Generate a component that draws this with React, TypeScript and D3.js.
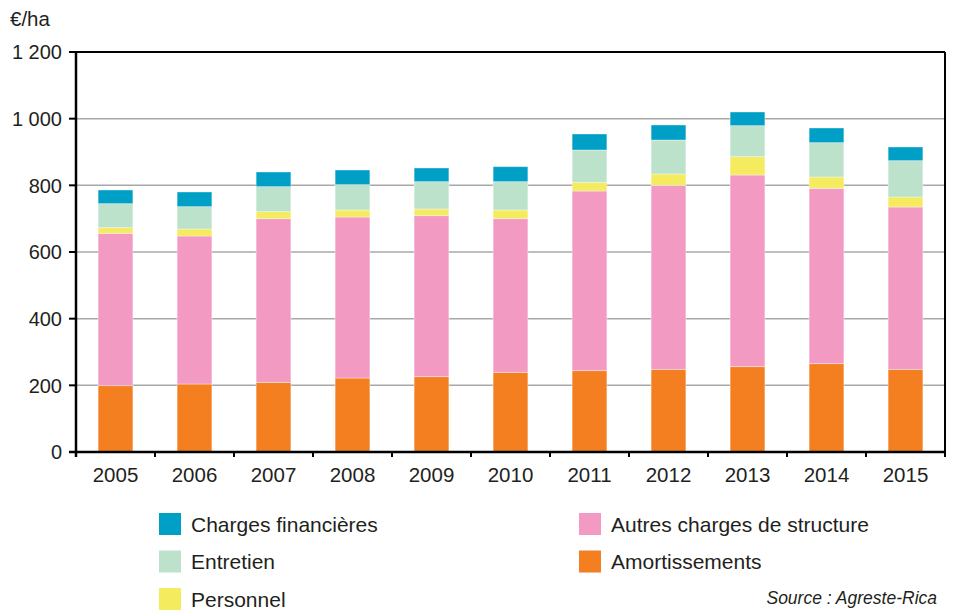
import React from "react";
import * as d3 from "d3";

const years = ["2005","2006","2007","2008","2009","2010","2011","2012","2013","2014","2015"];
const amortissements = [199, 204, 209, 222, 226, 239, 244, 248, 256, 265, 248];
const autresCharges = [457, 444, 491, 483, 483, 461, 539, 552, 575, 526, 487];
const personnel = [17, 21, 21, 21, 20, 26, 26, 34, 55, 34, 30];
const entretien = [72, 67, 75, 76, 82, 85, 97, 102, 93, 103, 109];
const chargesFinancieres = [41, 44, 44, 44, 41, 45, 48, 45, 41, 44, 41];
const yTicks = [0, 200, 400, 600, 800, 1000, 1200];

const seriesKeys = ["amort", "autres", "perso", "entretien", "fin"];
const seriesColors: Record<string, string> = {
  amort: "#f47f20",
  autres: "#f39ac3",
  perso: "#f5eb5f",
  entretien: "#bde2cc",
  fin: "#00a0c6",
};

const legendItems = [
  { key: "fin", label: "Charges financières", col: 0, row: 0 },
  { key: "entretien", label: "Entretien", col: 0, row: 1 },
  { key: "perso", label: "Personnel", col: 0, row: 2 },
  { key: "autres", label: "Autres charges de structure", col: 1, row: 0 },
  { key: "amort", label: "Amortissements", col: 1, row: 1 },
];

const fmt = (v: number) => {
  const s = String(v);
  return s.length > 3 ? s.slice(0, s.length - 3) + "\u00a0" + s.slice(-3) : s;
};

export default function App() {
  const W = 955, H = 610;
  const left = 76, right = 945, top = 52, bottom = 452;
  const font = "'Liberation Sans', Arial, Helvetica, sans-serif";
  const txt = "#231f20";

  const table = years.map((y, i) => ({
    year: y,
    amort: amortissements[i],
    autres: autresCharges[i],
    perso: personnel[i],
    entretien: entretien[i],
    fin: chargesFinancieres[i],
  }));
  const stacked = d3.stack<any>().keys(seriesKeys)(table);

  const x = d3.scaleBand().domain(years).range([left, right]).paddingInner(0.56).paddingOuter(0.28);
  const y = d3.scaleLinear().domain([0, 1200]).range([bottom, top]);
  const step = x.step();
  const x0 = left;

  return (
    <svg width={W} height={H} style={{ position: "absolute", left: 0, top: 0, background: "#fff" }} fontFamily={font}>
      {yTicks.filter((t) => t > 0 && t < 1200).map((t) => (
        <line key={t} x1={left} x2={right} y1={y(t)} y2={y(t)} stroke="#a8a8a8" strokeWidth={1.5} />
      ))}
      {stacked.map((s) => (
        <g key={s.key} fill={seriesColors[s.key]}>
          {s.map((d, i) => (
            <rect
              key={i}
              x={x(years[i])}
              width={x.bandwidth()}
              y={y(d[1])}
              height={y(d[0]) - y(d[1])}
              stroke="#ffffff"
              strokeOpacity={0.45}
              strokeWidth={0.8}
            />
          ))}
        </g>
      ))}
      <line x1={left - 7} x2={right} y1={top} y2={top} stroke="#000" strokeWidth={2} />
      <line x1={right} x2={right} y1={top} y2={bottom + 4} stroke="#000" strokeWidth={2} />
      <line x1={left} x2={left} y1={top} y2={bottom + 5} stroke="#000" strokeWidth={2.5} />
      <line x1={left - 7} x2={right} y1={bottom} y2={bottom} stroke="#000" strokeWidth={2.5} />
      {yTicks.map((t) => (
        <g key={t}>
          <line x1={left - 7} x2={left} y1={y(t)} y2={y(t)} stroke="#000" strokeWidth={2} />
          <text x={62} y={y(t)} dy="0.36em" textAnchor="end" fontSize={20} fill={txt}>
            {fmt(t)}
          </text>
        </g>
      ))}
      {d3.range(years.length + 1).map((i) => (
        <line key={i} x1={x0 + i * step} x2={x0 + i * step} y1={bottom} y2={bottom + 5} stroke="#000" strokeWidth={2} />
      ))}
      {years.map((yr) => (
        <text key={yr} x={(x(yr) as number) + x.bandwidth() / 2} y={482} textAnchor="middle" fontSize={20.5} fill={txt}>
          {yr}
        </text>
      ))}
      <text x={10} y={26} fontSize={20.5} fill={txt}>€/ha</text>
      {legendItems.map((it) => {
        const lx = it.col === 0 ? 159 : 579;
        const ly = 513 + it.row * 37.5;
        return (
          <g key={it.key}>
            <rect x={lx} y={ly} width={22} height={22} fill={seriesColors[it.key]} />
            <text x={lx + 32} y={ly + 18.5} fontSize={21} fill={txt}>{it.label}</text>
          </g>
        );
      })}
      <text x={937} y={604} textAnchor="end" fontSize={17.5} fontStyle="italic" fill={txt}>
        Source : Agreste-Rica
      </text>
    </svg>
  );
}
